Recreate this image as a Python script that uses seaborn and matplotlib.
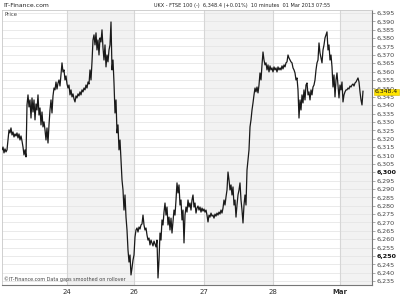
import numpy as np
import pandas as pd
import matplotlib
matplotlib.use("Agg")
import matplotlib.pyplot as plt
import seaborn as sns

# ---- data: FTSE 100 10-minute closes ----
seg_a = [6313.3, 6315.0, 6311.5, 6313.9, 6312.1, 6313.3, 6319.2, 6325.2, 6323.4, 6326.4,
         6322.2, 6324.0, 6321.0, 6322.8, 6321.6, 6323.4, 6320.4, 6322.8, 6319.2, 6321.6,
         6318.6, 6315.0, 6310.3, 6313.3, 6309.1, 6340.1, 6346.1, 6338.9, 6343.1, 6332.3,
         6344.3, 6335.9, 6343.1, 6331.2, 6340.7, 6337.1, 6346.1, 6334.1, 6338.3, 6328.2,
         6335.9, 6327.0, 6330.0, 6325.2, 6319.2, 6326.4, 6317.4, 6328.2, 6337.1, 6343.1,
         6335.3, 6345.5, 6350.2, 6349.1, 6353.8, 6349.6, 6353.2, 6355.0, 6351.4, 6358.0,
         6365.2, 6359.8, 6361.0, 6355.0, 6357.4, 6352.6]
seg_b = [6350.2, 6352.0, 6346.1, 6349.1, 6344.9, 6346.7, 6343.7, 6341.9, 6345.5, 6344.3,
         6346.7, 6345.5, 6347.9, 6346.1, 6349.1, 6347.9, 6350.2, 6349.1, 6352.0, 6350.2,
         6353.8, 6352.6, 6361.0, 6355.0, 6365.8, 6378.9, 6381.9, 6375.9, 6383.1, 6372.9,
         6378.9, 6369.9, 6380.1, 6377.7, 6384.9, 6374.1, 6366.9, 6375.9, 6362.8, 6369.9,
         6365.8, 6372.9, 6375.9, 6389.6, 6361.0, 6366.9, 6353.2, 6335.3, 6343.1, 6323.4,
         6328.2, 6313.3, 6319.2, 6307.3, 6295.4, 6289.4, 6277.4, 6286.4, 6273.2, 6265.5,
         6253.6, 6246.4, 6250.6, 6238.7, 6242.8, 6247.6, 6250.6]
seg_c = [6261.3, 6265.5, 6266.7, 6264.3, 6267.3, 6266.1, 6268.5, 6269.1, 6274.4, 6268.5,
         6265.5, 6266.7, 6262.5, 6259.5, 6260.7, 6256.6, 6259.5, 6257.8, 6256.0, 6258.9,
         6257.2, 6255.4, 6259.5, 6236.9, 6247.6, 6263.7, 6259.5, 6271.5, 6268.5, 6276.2,
         6281.6, 6274.4, 6279.2, 6268.5, 6273.2, 6265.5, 6272.6, 6263.7, 6270.3, 6277.4,
         6274.4, 6283.4, 6293.6, 6287.6, 6292.4, 6280.4, 6283.4, 6271.5, 6277.4, 6257.8,
         6274.4, 6279.2, 6276.2, 6283.4, 6279.2, 6281.6, 6277.4, 6283.4, 6286.4, 6279.2,
         6281.6, 6275.6, 6278.6, 6279.8, 6277.4, 6279.2, 6276.2, 6278.6, 6276.8, 6278.0]
seg_d = [6276.2, 6277.4, 6274.4, 6270.3, 6274.4, 6273.2, 6275.6, 6273.8, 6274.4, 6272.6,
         6275.0, 6273.8, 6275.6, 6274.4, 6276.2, 6275.0, 6277.4, 6275.6, 6278.6, 6283.4,
         6280.4, 6285.2, 6289.4, 6300.1, 6295.4, 6289.4, 6292.4, 6286.4, 6291.2, 6280.4,
         6283.4, 6273.2, 6280.4, 6286.4, 6289.4, 6293.6, 6283.4, 6277.4, 6269.7, 6280.4,
         6286.4, 6280.4, 6301.3, 6307.3, 6313.3, 6327.0, 6331.2, 6337.1, 6341.3, 6346.1,
         6350.2, 6347.9, 6350.8, 6347.3, 6352.0, 6359.2, 6355.0, 6364.0, 6371.7, 6366.9,
         6364.0, 6365.2, 6361.0, 6364.0, 6359.8, 6363.4, 6361.0, 6362.2, 6359.8]
seg_e = [6362.8, 6361.0, 6362.2, 6359.8, 6362.8, 6361.0, 6362.2, 6361.0, 6363.4, 6361.6,
         6364.0, 6362.8, 6365.2, 6365.8, 6369.9, 6368.1, 6366.9, 6365.8, 6365.2, 6362.2,
         6361.0, 6359.2, 6355.0, 6356.2, 6349.1, 6332.3, 6343.1, 6337.1, 6346.1, 6341.3,
         6349.1, 6343.1, 6352.0, 6353.2, 6346.1, 6347.9, 6343.1, 6349.1, 6346.1, 6350.8,
         6352.0, 6355.0, 6361.0, 6365.2, 6366.9, 6377.1, 6371.1, 6368.1, 6365.2, 6372.9,
         6375.9, 6380.1, 6381.9, 6383.7, 6372.9, 6375.9, 6366.9, 6369.9, 6362.8, 6350.8,
         6358.0, 6344.9, 6355.0, 6359.2, 6352.0, 6344.3, 6352.0]
seg_f = [6349.1, 6353.8, 6341.9, 6346.1, 6347.9, 6349.1, 6349.1, 6350.2, 6349.6, 6351.4,
         6350.8, 6352.0, 6352.6, 6351.4, 6353.2, 6353.8, 6355.0, 6356.2, 6353.8, 6347.9,
         6343.1, 6340.1, 6348.4]

prices = seg_a + seg_b + seg_c + seg_d + seg_e + seg_f
bars = list(range(len(prices)))

day_starts = [65, 132, 202, 271, 338]
day_labels = ["24", "26", "27", "28", "Mar"]
shaded_days = [(65, 132), (202, 271), (338, 370)]
y_ticks = list(range(6235, 6400, 5))
last_price = 6348.4
title_text = "UKX - FTSE 100 (-)  6,348.4 (+0.01%)  10 minutes  01 Mar 2013 07:55"

df = pd.DataFrame({"bar": bars, "price": prices})

sns.set_style("white")
plt.rcParams["font.family"] = ["DejaVu Sans"]

fig = plt.figure(figsize=(4, 3), dpi=100)
ax = fig.add_axes([0.005, 0.05, 0.925, 0.917])

for a, b in shaded_days:
    ax.axvspan(a, b, color="#f2f2f2", zorder=0, lw=0)
for yv in y_ticks:
    ax.axhline(yv, color="#e6e6e6", lw=0.6, zorder=1)
for xv in day_starts:
    ax.axvline(xv, color="#d6d6d6", lw=0.8, zorder=1)

sns.lineplot(data=df, x="bar", y="price", ax=ax, color="#1a1a1a", lw=0.9, zorder=3)

ax.set_xlim(0, 370)
ax.set_ylim(6232.7, 6396.8)
ax.set_xlabel("")
ax.set_ylabel("")

ax.set_xticks(day_starts)
ax.set_xticklabels(day_labels, fontsize=5, color="#333333")
for t in ax.get_xticklabels():
    if t.get_text() == "Mar":
        t.set_fontweight("bold")
ax.tick_params(axis="x", length=0, pad=3)

ax.yaxis.tick_right()
ax.set_yticks(y_ticks)
ax.set_yticklabels([f"{v:,}" for v in y_ticks], fontsize=4.6, color="#444444")
for t, v in zip(ax.get_yticklabels(), y_ticks):
    if v in (6250, 6300):
        t.set_fontweight("bold")
        t.set_color("#111111")
ax.tick_params(axis="y", length=2, width=0.5, color="#888888", pad=1.5)

for side in ["left", "top"]:
    ax.spines[side].set_color("#c8c8c8")
    ax.spines[side].set_linewidth(0.6)
for side in ["right", "bottom"]:
    ax.spines[side].set_color("#777777")
    ax.spines[side].set_linewidth(0.8)

ax.text(0.006, 0.992, "Price", transform=ax.transAxes, fontsize=3.9,
        color="#444444", va="top", ha="left",
        bbox=dict(boxstyle="square,pad=0.15", fc="white", ec="none"), zorder=5)
ax.text(0.006, 0.012, "\u00a9IT-Finance.com Data gaps smoothed on rollover",
        transform=ax.transAxes, fontsize=3.5, color="#444444", va="bottom", ha="left", zorder=5)

ax.annotate(f"{last_price:,.1f}", xy=(1.0, last_price),
            xycoords=("axes fraction", "data"), xytext=(2, -0.5),
            textcoords="offset points", fontsize=4.4, color="#111111",
            va="center", ha="left", annotation_clip=False,
            bbox=dict(boxstyle="square,pad=0.1", fc="#ffe400", ec="#d4b800", lw=0.4),
            zorder=6)

fig.text(0.008, 0.983, "IT-Finance.com", fontsize=4.4, color="#222222", va="center", ha="left")
fig.text(0.605, 0.983, title_text, fontsize=3.6, color="#222222", va="center", ha="center")

fig.savefig("out.png", dpi=100)
